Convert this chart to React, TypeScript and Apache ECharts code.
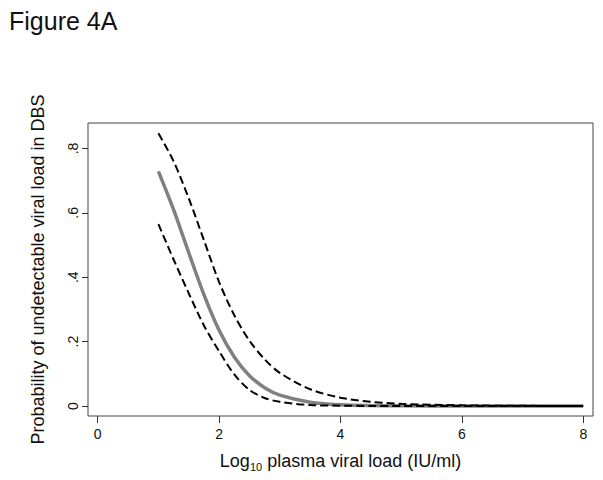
import React, { useEffect, useRef } from "react";
import * as echarts from "echarts";

const xs = [1, 1.25, 1.5, 1.75, 2, 2.25, 2.5, 2.75, 3, 3.5, 4, 4.5, 5, 6, 7, 8];
const fit = [0.729, 0.61, 0.476, 0.346, 0.235, 0.152, 0.094, 0.057, 0.034, 0.012, 0.004, 0.0014, 0.0005, 0.0001, 0, 0];
const upper = [0.847, 0.76, 0.645, 0.515, 0.385, 0.282, 0.203, 0.145, 0.103, 0.052, 0.026, 0.013, 0.0067, 0.002, 0.0006, 0.0002];
const lower = [0.565, 0.455, 0.35, 0.25, 0.17, 0.098, 0.05, 0.025, 0.013, 0.003, 0.001, 0.0003, 0.0001, 0, 0, 0];

const xTicks = [0, 2, 4, 6, 8];
const yTicks = [0, 0.2, 0.4, 0.6, 0.8];

const FONT = "Liberation Sans, Arial, sans-serif";

function pairs(ys: number[]) {
  return xs.map((x, i) => [x, ys[i]]);
}

export default function App() {
  const ref = useRef<HTMLDivElement>(null);
  useEffect(() => {
    if (!ref.current) return;
    const chart = echarts.init(ref.current, undefined, { renderer: "svg" });
    chart.setOption({
      animation: false,
      backgroundColor: "#ffffff",
      title: {
        text: "Figure 4A",
        left: 4,
        top: 3,
        textStyle: { fontSize: 25, fontWeight: "normal", fontFamily: FONT, color: "#111" },
      },
      grid: {
        left: 88,
        top: 123,
        right: 10,
        bottom: 64,
        show: true,
        borderColor: "#444",
        borderWidth: 1,
        backgroundColor: "transparent",
      },
      xAxis: {
        type: "value",
        min: -0.16,
        max: 8.16,
        splitLine: { show: false },
        axisLine: { show: false, onZero: false },
        axisTick: {
          show: true,
          customValues: xTicks,
          length: 7,
          lineStyle: { color: "#333", width: 1 },
        },
        axisLabel: {
          customValues: xTicks,
          fontSize: 14,
          color: "#111",
          fontFamily: FONT,
          margin: 11,
        },
        name: "{n|Log}{s|10}{n| plasma viral load (IU/ml)}",
        nameLocation: "middle",
        nameGap: 34,
        nameTextStyle: {
          fontFamily: FONT,
          color: "#111",
          rich: {
            n: { fontSize: 18, fontFamily: FONT, color: "#111", lineHeight: 22, verticalAlign: "middle" },
            s: { fontSize: 11, fontFamily: FONT, color: "#111", lineHeight: 11, verticalAlign: "bottom" },
          },
        },
      },
      yAxis: {
        type: "value",
        min: -0.031,
        max: 0.879,
        splitLine: { show: false },
        axisLine: { show: false, onZero: false },
        axisTick: {
          show: true,
          customValues: yTicks,
          length: 6,
          lineStyle: { color: "#333", width: 1 },
        },
        axisLabel: {
          customValues: yTicks,
          rotate: 90,
          align: "center",
          verticalAlign: "bottom",
          fontSize: 14,
          color: "#111",
          fontFamily: FONT,
          margin: 8,
          formatter: (v: number) => (v === 0 ? "0" : String(+v.toFixed(1)).replace(/^0/, "")),
        },
        name: "Probability of undetectable viral load in DBS",
        nameLocation: "middle",
        nameGap: 41,
        nameTextStyle: { fontSize: 18, fontFamily: FONT, color: "#111" },
      },
      series: [
        {
          type: "line",
          data: pairs(fit),
          smooth: 0.3,
          symbol: "none",
          lineStyle: { color: "#808080", width: 3.5 },
          z: 2,
        },
        {
          type: "line",
          data: pairs(upper),
          smooth: 0.3,
          symbol: "none",
          lineStyle: { color: "#000", width: 2, type: [8, 4] },
          z: 3,
        },
        {
          type: "line",
          data: pairs(lower),
          smooth: 0.3,
          symbol: "none",
          lineStyle: { color: "#000", width: 2, type: [8, 4] },
          z: 3,
        },
      ],
    });
    return () => chart.dispose();
  }, []);
  return (
    <div
      ref={ref}
      style={{ position: "fixed", left: 0, top: 0, width: 603, height: 480, background: "#fff" }}
    />
  );
}
